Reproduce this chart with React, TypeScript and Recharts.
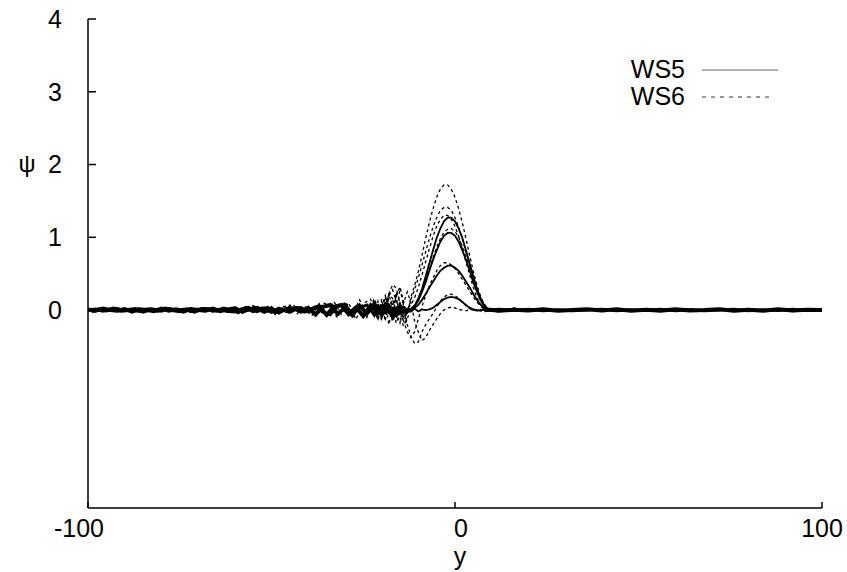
import React from 'react';
import { LineChart, Line, XAxis, YAxis } from 'recharts';

const FONT = '"Liberation Sans", Arial, Helvetica, sans-serif';

const xTicks = [-100, 0, 100];
const xTickShift: Record<number, number> = { [-100]: -9, 0: 6, 100: 0 };
const yTicks = [0, 1, 2, 3, 4];
const legendNames = ['WS5', 'WS6'];
const xAxisName = 'y';
const yAxisName = 'ψ';

// x grids
const leftEvenX = [-100,-98,-96,-94,-92,-90,-88,-86,-84,-82,-80,-78,-76,-74,-72,-70,-68,-66,-64,-62,
  -60,-58,-56,-54,-52,-50,-48,-46,-44,-42,-40,
  -38,-36,-34,-32,-30,-28,-26,-24,-22,-20,-18,-16,-14];
const leftOddX = [-99,-97,-95,-93,-91,-89,-87,-85,-83,-81,-79,-77,-75,-73,-71,-69,-67,-65,-63,-61,
  -59,-57,-55,-53,-51,-49,-47,-45,-43,-41,-39,
  -37,-35,-33,-31,-29,-27,-25,-23,-21,-19,-17,-15,-13];
const bumpX = [-22,-21,-20,-19,-18,-17,-16,-15,-14,-13,
  -12,-11,-10,-9,-8,-7,-6,-5,-4,-3,-2,-1,0,1,2,3,4,5,6,7,8,9,10,11,12];
const rightX = [8,12,16,20,24,28,32,36,40,44,48,52,56,60,64,68,72,76,80,84,88,92,96,100];

// WS5 (solid) – background noise
const ws5NoiseA = [0.01,-0.01,0.02,0,-0.01,0.015,-0.02,0.01,0,-0.015,0.02,-0.01,0.01,-0.02,0.015,0,-0.01,0.02,-0.015,0.01,
  0.025,-0.02,0.01,0.03,-0.025,0.02,-0.03,0.015,0.025,-0.02,0.03,
  -0.06,0.045,0.07,-0.05,0.03,-0.07,0.06,-0.045,0.085,-0.065,0.05,-0.07,0.045];
const ws5NoiseB = [-0.015,0.01,-0.005,0.02,-0.01,0,0.015,-0.02,0.01,-0.01,0.02,0,-0.015,0.01,-0.02,0.015,0.01,-0.01,0.02,-0.015,
  -0.02,0.03,-0.015,0.02,0.025,-0.03,0.01,-0.025,0.03,-0.02,0.015,
  0.05,-0.065,0.045,0.07,-0.055,0.035,-0.08,0.065,-0.045,0.07,-0.085,0.055,-0.05];
const ws5NoiseC = [0,0.015,-0.015,0.01,0.02,-0.01,0.005,-0.02,0.015,0.01,-0.015,0.02,-0.005,0.01,-0.02,0.01,0.015,-0.01,0.005,-0.02,
  -0.015,0.02,0.03,-0.02,0.01,-0.03,0.025,-0.015,0.02,0.035,-0.025,
  0.045,-0.03,-0.065,0.055,0.075,-0.045,0.03,0.07,-0.07,0.045,0.065,-0.055,-0.03];
const ws5RightA = [0.01,-0.01,0.005,-0.005,0.01,-0.01,0,0.01,-0.005,0.01,-0.01,0.005,-0.01,0.01,-0.005,0,0.01,-0.01,0.005,-0.01,0.01,-0.005,0.005,0];
const ws5RightB = [-0.01,0.01,-0.005,0.01,-0.01,0.005,-0.01,0,0.01,-0.01,0.005,-0.005,0.01,-0.01,0.005,-0.01,0,0.01,-0.01,0.005,-0.005,0.01,-0.005,0.005];

// WS5 (solid) – pulses
const ws5Pulse1 = [0.02,-0.03,0.03,-0.01,0.04,-0.02,0.03,-0.04,0.02,-0.01,
  0.01,0.06,0.16,0.29,0.46,0.64,0.82,0.99,1.12,1.22,1.27,1.27,1.22,1.12,0.99,0.82,0.64,0.46,0.29,0.16,0.06,0.01,0,0.01,-0.01];
const ws5Pulse2 = [-0.02,0.03,-0.03,0.02,-0.04,0.03,-0.02,0.04,-0.03,0.02,
  0.01,0.05,0.13,0.25,0.38,0.54,0.69,0.82,0.94,1.02,1.06,1.06,1.02,0.94,0.82,0.69,0.54,0.38,0.25,0.13,0.05,0.01,0,-0.01,0.01];
const ws5Pulse3 = [0.03,-0.02,0.02,-0.04,0.03,-0.03,0.04,-0.02,0.03,-0.03,
  0,0.03,0.07,0.14,0.22,0.31,0.39,0.47,0.54,0.58,0.61,0.61,0.58,0.54,0.47,0.39,0.31,0.22,0.14,0.07,0.03,0,0.01,-0.01,0];
const ws5Pulse4 = [-0.03,0.02,-0.02,0.03,-0.03,0.02,-0.03,0.03,-0.02,0.02,
  -0.02,0.02,-0.02,0.01,0,0.01,0.03,0.07,0.11,0.15,0.17,0.18,0.17,0.15,0.11,0.07,0.03,0.01,0,-0.01,0.01,0,0.01,-0.01,0];

// WS6 (dashed) – background noise
const ws6NoiseA = [0.02,-0.025,0.01,0.03,-0.02,0.015,-0.03,0.025,0.01,-0.02,0.03,-0.01,-0.025,0.02,0.03,-0.02,0.01,-0.03,0.025,-0.015,
  0.04,-0.05,0.03,0.06,-0.04,0.05,-0.06,0.035,0.07,-0.05,0.04,
  -0.08,0.1,0.06,-0.11,0.12,-0.07,0.14,-0.1,0.16,-0.12,0.22,-0.18,0.12];
const ws6NoiseB = [-0.03,0.02,-0.01,0.025,-0.02,0.03,0.01,-0.025,0.02,-0.03,0.015,0.025,-0.02,0.01,-0.03,0.02,0.025,-0.015,0.03,-0.02,
  -0.05,0.04,0.06,-0.03,0.05,-0.06,0.04,0.07,-0.05,0.06,-0.08,
  0.09,-0.1,0.12,-0.06,0.1,-0.13,0.09,0.15,-0.14,0.2,-0.16,0.1,-0.2];
const ws6Right = [0.04,-0.03,0.03,-0.02,0.02,-0.02,0.015,0.02,-0.015,0.02,-0.02,0.015,-0.02,0.015,0.02,-0.015,0.015,-0.02,0.02,-0.015,0.015,-0.02,0.015,-0.01];

// WS6 (dashed) – pulses
const ws6Pulse1 = [0.08,-0.1,0.15,-0.05,0.2,0.28,0.12,-0.06,-0.15,-0.05,
  0.18,0.34,0.53,0.75,0.98,1.2,1.39,1.55,1.66,1.72,1.72,1.66,1.55,1.39,1.2,0.98,0.75,0.53,0.34,0.18,0.07,0.01,0,0.02,-0.01];
const ws6Pulse2 = [-0.06,0.12,-0.08,0.18,0.05,-0.1,0.25,0.1,-0.12,-0.04,
  0.15,0.28,0.44,0.62,0.8,0.98,1.14,1.27,1.37,1.41,1.41,1.37,1.27,1.14,0.98,0.8,0.62,0.44,0.28,0.15,0.05,0.01,0,-0.02,0.01];
const ws6Pulse3 = [0.04,-0.12,0.1,-0.15,0.22,0.16,-0.08,0.3,0.05,0.02,
  0.07,0.17,0.31,0.48,0.66,0.84,1.01,1.15,1.25,1.3,1.3,1.25,1.15,1.01,0.84,0.66,0.48,0.31,0.17,0.07,0.02,0,0.01,-0.01,0];
const ws6Pulse4 = [-0.1,0.06,-0.14,0.12,-0.2,0.08,0.18,-0.1,-0.22,-0.12,
  0.02,0.07,0.15,0.27,0.41,0.57,0.72,0.86,0.98,1.07,1.11,1.12,1.08,1.0,0.88,0.74,0.59,0.43,0.29,0.17,0.08,0.02,0,0.01,-0.01];
const ws6Pulse5 = [0.05,-0.08,0.12,0.02,0.22,0.35,0.3,0.1,-0.15,-0.3,
  -0.38,-0.3,-0.12,0.05,0.2,0.33,0.44,0.54,0.61,0.65,0.65,0.62,0.57,0.5,0.42,0.34,0.26,0.18,0.11,0.05,0.01,0,0.01,-0.01,0];
const ws6Pulse6 = [-0.04,0.1,-0.06,0.18,0.08,-0.1,0.2,0.32,0.12,-0.2,
  -0.36,-0.46,-0.44,-0.3,-0.2,-0.12,-0.05,0.04,0.12,0.18,0.21,0.22,0.2,0.16,0.11,0.06,0.02,0,-0.01,0.01,0,0.01,-0.01,0,0.01];
const ws6Pulse7 = [0.06,-0.05,0.02,-0.12,0.05,0.15,-0.05,-0.18,0.1,0.25,
  0.1,-0.15,-0.3,-0.42,-0.38,-0.28,-0.2,-0.12,-0.05,0,0.03,0.04,0.03,0.01,0,-0.01,0.01,0,-0.01,0.01,0,0,0.01,-0.01,0];

const zip = (xs: number[], vs: number[]) => xs.map((x, i) => ({ x, v: vs[i] }));

type S = { id: string; data: { x: number; v: number }[]; dashed: boolean; w: number };

const series: S[] = [
  { id: 'n6a', data: zip(leftEvenX, ws6NoiseA), dashed: true, w: 1.3 },
  { id: 'n6b', data: zip(leftOddX, ws6NoiseB), dashed: true, w: 1.3 },
  { id: 'r6', data: zip(rightX, ws6Right), dashed: true, w: 1.5 },
  { id: 'n5a', data: zip(leftEvenX, ws5NoiseA), dashed: false, w: 4 },
  { id: 'n5b', data: zip(leftOddX, ws5NoiseB), dashed: false, w: 4 },
  { id: 'n5c', data: zip(leftEvenX, ws5NoiseC), dashed: false, w: 3 },
  { id: 'r5a', data: zip(rightX, ws5RightA), dashed: false, w: 4 },
  { id: 'r5b', data: zip(rightX, ws5RightB), dashed: false, w: 3 },
  { id: 'p6a', data: zip(bumpX, ws6Pulse1), dashed: true, w: 1.3 },
  { id: 'p6b', data: zip(bumpX, ws6Pulse2), dashed: true, w: 1.3 },
  { id: 'p6c', data: zip(bumpX, ws6Pulse3), dashed: true, w: 1.3 },
  { id: 'p6d', data: zip(bumpX, ws6Pulse4), dashed: true, w: 1.3 },
  { id: 'p6e', data: zip(bumpX, ws6Pulse5), dashed: true, w: 1.3 },
  { id: 'p6f', data: zip(bumpX, ws6Pulse6), dashed: true, w: 1.3 },
  { id: 'p6g', data: zip(bumpX, ws6Pulse7), dashed: true, w: 1.3 },
  { id: 'p5a', data: zip(bumpX, ws5Pulse1), dashed: false, w: 1.8 },
  { id: 'p5b', data: zip(bumpX, ws5Pulse2), dashed: false, w: 1.8 },
  { id: 'p5c', data: zip(bumpX, ws5Pulse3), dashed: false, w: 1.8 },
  { id: 'p5d', data: zip(bumpX, ws5Pulse4), dashed: false, w: 1.8 },
];

const YTick = (props: any) => {
  const { x, y, payload } = props;
  return (
    <g>
      <text x={x} y={y} dy="0.355em" textAnchor="end" fontSize={25} fontFamily={FONT} fill="#000">
        {payload.value}
      </text>
      {payload.value === 2 && (
        <text x={27} y={y} dy="0.3em" textAnchor="middle" fontSize={24} fontFamily={FONT} fill="#000">
          {yAxisName}
        </text>
      )}
    </g>
  );
};

const XTick = (props: any) => {
  const { x, y, payload } = props;
  const shift = xTickShift[payload.value] || 0;
  return (
    <text x={x + shift} y={y} dy="0.71em" textAnchor="middle" fontSize={25} fontFamily={FONT} fill="#000">
      {payload.value}
    </text>
  );
};

const XLabel = (props: any) => {
  const vb = props.viewBox || { x: 88, y: 508, width: 734, height: 64 };
  return (
    <text x={vb.x + vb.width / 2 + 5} y={vb.y + vb.height - 7} textAnchor="middle" fontSize={25} fontFamily={FONT} fill="#000">
      {xAxisName}
    </text>
  );
};

export default function App() {
  return (
    <div style={{ position: 'absolute', left: 0, top: 0, width: 847, height: 572, background: '#fff' }}>
      <LineChart width={847} height={572} margin={{ top: 19, right: 25, left: 0, bottom: 0 }}>
        <XAxis
          type="number"
          dataKey="x"
          domain={[-100, 100]}
          ticks={xTicks}
          interval={0}
          allowDataOverflow
          height={64}
          tickSize={-6}
          tickMargin={17}
          tick={<XTick />}
          axisLine={{ stroke: '#000', strokeWidth: 1.5 }}
          tickLine={{ stroke: '#000', strokeWidth: 1.5 }}
          label={<XLabel />}
        />
        <YAxis
          type="number"
          dataKey="v"
          domain={[-2.72, 4]}
          ticks={yTicks}
          interval={0}
          allowDataOverflow
          width={88}
          tickSize={-8}
          tickMargin={34}
          tick={<YTick />}
          axisLine={{ stroke: '#000', strokeWidth: 1.5 }}
          tickLine={{ stroke: '#000', strokeWidth: 1.5 }}
        />
        {series.map((s) => (
          <Line
            key={s.id}
            data={s.data}
            dataKey="v"
            type="linear"
            stroke="#000"
            strokeWidth={s.w}
            strokeDasharray={s.dashed ? '3 3' : undefined}
            dot={false}
            activeDot={false}
            isAnimationActive={false}
            legendType="none"
          />
        ))}
      </LineChart>
      <svg width={847} height={572} style={{ position: 'absolute', left: 0, top: 0, pointerEvents: 'none' }}>
        <text x={685} y={78} textAnchor="end" fontSize={25} fontFamily={FONT} fill="#000">{legendNames[0]}</text>
        <line x1={702} y1={70} x2={778} y2={70} stroke="#666" strokeWidth={1.2} />
        <text x={685} y={105} textAnchor="end" fontSize={25} fontFamily={FONT} fill="#000">{legendNames[1]}</text>
        <line x1={702} y1={97} x2={773} y2={97} stroke="#333" strokeWidth={1} strokeDasharray="4 5" />
      </svg>
    </div>
  );
}
